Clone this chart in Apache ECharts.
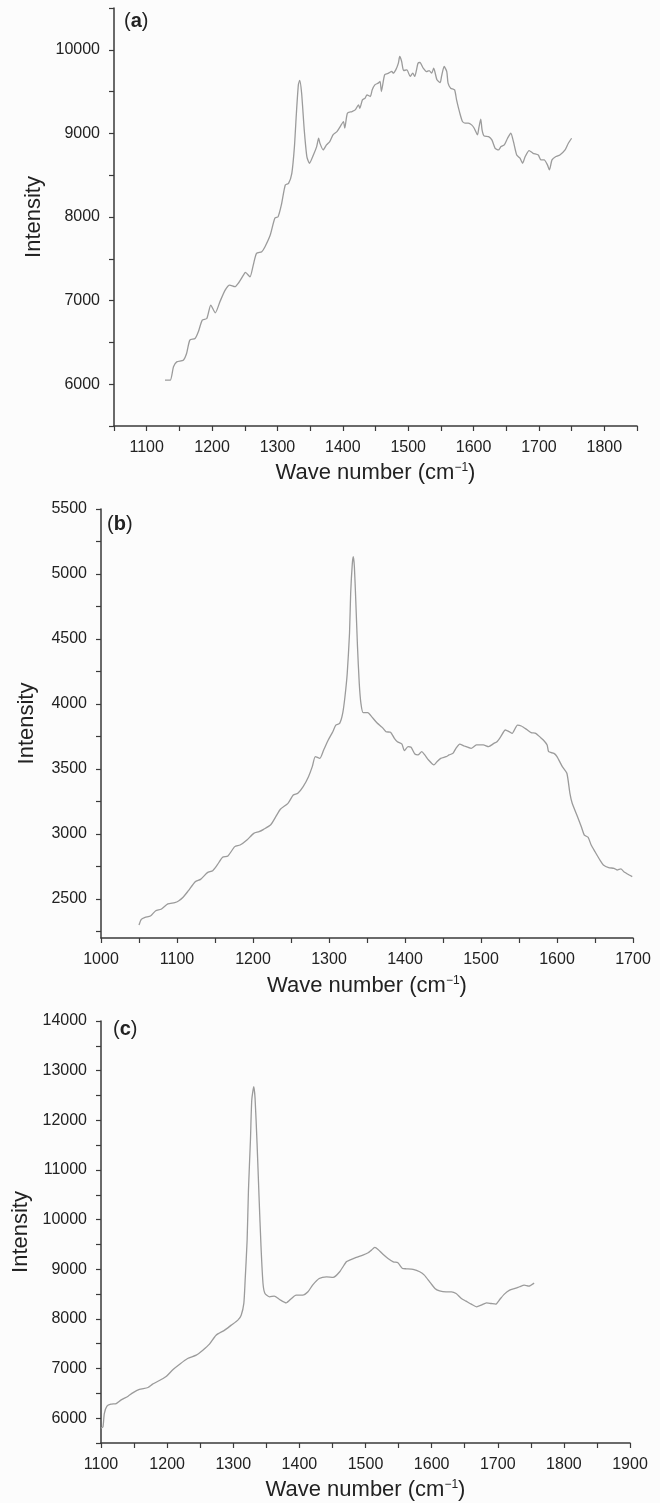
<!DOCTYPE html>
<html>
  <head>
    <meta charset="utf-8" />
    <title>Raman spectra</title>
    <style>
      html, body { margin: 0; padding: 0; background: #fcfcfc; }
      #chart { width: 660px; height: 1503px; }
    </style>
  </head>
  <body>
    <div id="chart"></div>
    <script src="https://cdn.jsdelivr.net/npm/echarts@6/dist/echarts.min.js"></script>
    <script type="text/javascript">
      // spectrum (a)
      var waveA = [1128, 1136, 1141, 1146, 1156, 1161, 1166, 1174, 1179, 1185, 1192, 1198, 1205, 1212, 1220, 1227, 1235, 1240, 1248, 1251, 1258, 1263, 1268, 1276, 1281, 1289, 1296, 1301, 1306, 1312, 1317, 1322, 1326, 1329, 1332, 1334, 1337, 1341, 1345, 1349, 1355, 1360, 1363, 1365, 1370, 1375, 1380, 1385, 1391, 1396, 1401, 1403, 1407, 1414, 1419, 1424, 1426, 1430, 1434, 1437, 1442, 1445, 1449, 1454, 1457, 1459, 1464, 1470, 1475, 1477, 1481, 1485, 1487, 1490, 1493, 1498, 1503, 1507, 1510, 1515, 1518, 1523, 1528, 1532, 1536, 1539, 1544, 1549, 1551, 1555, 1559, 1561, 1565, 1571, 1574, 1579, 1583, 1587, 1592, 1597, 1601, 1606, 1608, 1611, 1613, 1616, 1623, 1628, 1633, 1638, 1642, 1647, 1652, 1657, 1661, 1666, 1671, 1675, 1679, 1685, 1691, 1699, 1703, 1708, 1713, 1716, 1720, 1726, 1732, 1740, 1745, 1750];
      var intensityA = [6048, 6048, 6208, 6267, 6287, 6367, 6527, 6547, 6627, 6766, 6786, 6946, 6854, 6986, 7126, 7186, 7166, 7206, 7305, 7337, 7285, 7425, 7565, 7585, 7645, 7784, 7984, 8004, 8144, 8383, 8403, 8523, 8842, 9242, 9581, 9633, 9481, 9042, 8723, 8643, 8742, 8842, 8942, 8882, 8802, 8862, 8902, 8982, 9022, 9082, 9142, 9062, 9242, 9261, 9281, 9341, 9301, 9401, 9421, 9461, 9441, 9521, 9581, 9601, 9621, 9501, 9701, 9721, 9741, 9721, 9760, 9840, 9920, 9860, 9752, 9760, 9681, 9721, 9681, 9840, 9848, 9780, 9740, 9752, 9721, 9780, 9641, 9609, 9681, 9800, 9740, 9601, 9541, 9521, 9401, 9242, 9142, 9122, 9122, 9102, 9062, 8982, 9062, 9170, 9042, 8970, 8962, 8922, 8822, 8802, 8842, 8862, 8942, 9002, 8902, 8742, 8703, 8643, 8723, 8794, 8762, 8742, 8683, 8683, 8623, 8563, 8683, 8723, 8742, 8802, 8882, 8942];

      // spectrum (b)
      var waveB = [1050, 1053, 1058, 1065, 1072, 1079, 1088, 1097, 1102, 1108, 1115, 1124, 1131, 1140, 1147, 1153, 1160, 1167, 1176, 1183, 1192, 1201, 1208, 1214, 1223, 1230, 1236, 1246, 1253, 1259, 1266, 1273, 1278, 1282, 1288, 1293, 1299, 1305, 1309, 1314, 1318, 1321, 1324, 1327, 1328.5, 1330.7, 1332, 1333.4, 1335.2, 1337.5, 1339.8, 1342, 1345, 1351, 1356, 1363, 1370, 1375, 1381, 1386, 1390, 1396, 1399, 1404, 1408, 1413, 1417, 1422, 1426, 1431, 1438, 1442, 1447, 1454, 1458, 1463, 1467, 1472, 1478, 1487, 1494, 1503, 1510, 1517, 1521, 1526, 1532, 1537, 1541, 1548, 1553, 1560, 1566, 1572, 1578, 1582, 1587, 1589, 1596, 1600, 1607, 1613, 1617, 1620, 1627, 1632, 1636, 1641, 1645, 1650, 1657, 1661, 1668, 1675, 1679, 1684, 1688, 1695, 1699];
      var intensityB = [2300, 2344, 2359, 2369, 2410, 2421, 2462, 2472, 2485, 2513, 2564, 2633, 2651, 2703, 2718, 2762, 2821, 2831, 2903, 2915, 2954, 3005, 3018, 3036, 3069, 3133, 3190, 3236, 3300, 3313, 3364, 3441, 3518, 3595, 3582, 3646, 3723, 3787, 3838, 3851, 3928, 4056, 4236, 4544, 4851, 5082, 5133, 5056, 4800, 4441, 4159, 4005, 3933, 3933, 3903, 3856, 3820, 3787, 3782, 3736, 3710, 3692, 3641, 3672, 3667, 3615, 3608, 3633, 3608, 3569, 3531, 3556, 3582, 3595, 3608, 3620, 3659, 3692, 3677, 3659, 3685, 3685, 3672, 3697, 3710, 3749, 3800, 3787, 3774, 3838, 3831, 3805, 3780, 3774, 3744, 3723, 3685, 3633, 3620, 3595, 3518, 3467, 3313, 3236, 3133, 3056, 2992, 2974, 2915, 2864, 2795, 2762, 2741, 2736, 2723, 2731, 2710, 2685, 2672];

      // spectrum (c)
      var waveC = [1100, 1103, 1105, 1109, 1115, 1123, 1130, 1141, 1148, 1158, 1171, 1178, 1191, 1199, 1209, 1219, 1231, 1244, 1254, 1264, 1274, 1287, 1297, 1307, 1312, 1316, 1318, 1321, 1323, 1326, 1328, 1331, 1333, 1336, 1339, 1342, 1345, 1348, 1355, 1362, 1370, 1380, 1388, 1395, 1405, 1413, 1420, 1430, 1441, 1451, 1461, 1471, 1476, 1486, 1496, 1504, 1509, 1514, 1519, 1526, 1534, 1542, 1549, 1556, 1562, 1572, 1582, 1589, 1597, 1605, 1612, 1622, 1630, 1637, 1645, 1652, 1660, 1668, 1675, 1683, 1690, 1697, 1703, 1710, 1718, 1726, 1733, 1740, 1747, 1755];
      var intensityC = [5800, 5825, 6094, 6242, 6282, 6295, 6363, 6443, 6510, 6578, 6618, 6685, 6779, 6846, 6981, 7088, 7202, 7270, 7370, 7491, 7672, 7773, 7874, 7975, 8075, 8311, 8781, 9587, 10594, 11602, 12408, 12677, 12442, 11535, 10460, 9452, 8714, 8512, 8445, 8458, 8391, 8324, 8411, 8479, 8479, 8546, 8680, 8814, 8848, 8835, 8949, 9150, 9184, 9238, 9285, 9332, 9385, 9439, 9399, 9305, 9217, 9150, 9130, 9016, 9009, 8996, 8949, 8882, 8747, 8613, 8566, 8546, 8546, 8512, 8411, 8358, 8297, 8243, 8277, 8324, 8310, 8297, 8391, 8499, 8579, 8613, 8647, 8680, 8660, 8720];

      // tick positions and labels
      var xTicksA = [1050, 1100, 1150, 1200, 1250, 1300, 1350, 1400, 1450, 1500, 1550, 1600, 1650, 1700, 1750, 1800, 1850];
      var xLabelsA = [1100, 1200, 1300, 1400, 1500, 1600, 1700, 1800];
      var yTicksA = [5500, 6000, 6500, 7000, 7500, 8000, 8500, 9000, 9500, 10000, 10500];
      var yLabelsA = [6000, 7000, 8000, 9000, 10000];

      var xTicksB = [1000, 1050, 1100, 1150, 1200, 1250, 1300, 1350, 1400, 1450, 1500, 1550, 1600, 1650, 1700];
      var xLabelsB = [1000, 1100, 1200, 1300, 1400, 1500, 1600, 1700];
      var yTicksB = [2250, 2500, 2750, 3000, 3250, 3500, 3750, 4000, 4250, 4500, 4750, 5000, 5250, 5500];
      var yLabelsB = [2500, 3000, 3500, 4000, 4500, 5000, 5500];

      var xTicksC = [1100, 1150, 1200, 1250, 1300, 1350, 1400, 1450, 1500, 1550, 1600, 1650, 1700, 1750, 1800, 1850, 1900];
      var xLabelsC = [1100, 1200, 1300, 1400, 1500, 1600, 1700, 1800, 1900];
      var yTicksC = [5500, 6000, 6500, 7000, 7500, 8000, 8500, 9000, 9500, 10000, 10500, 11000, 11500, 12000, 12500, 13000, 13500, 14000];
      var yLabelsC = [6000, 7000, 8000, 9000, 10000, 11000, 12000, 13000, 14000];

      var FONT = "'Liberation Sans', Arial, sans-serif";
      var AXIS_COLOR = "#3a3a3a";
      var LINE_COLOR = "#9b9b9b";

      function pairs(xs, ys) {
        var out = [];
        for (var i = 0; i < xs.length; i++) out.push([xs[i], ys[i]]);
        return out;
      }

      // plain numbers, no thousands separator
      function plain(v) {
        return String(v);
      }

      function xAxisOf(idx, min, max, ticks, labels, gap) {
        return {
          type: "value",
          gridIndex: idx,
          min: min,
          max: max,
          name: "Wave number (cm{sup|\u22121})",
          nameLocation: "middle",
          nameGap: gap,
          nameTextStyle: {
            fontFamily: FONT,
            fontSize: 22,
            color: "#222",
            rich: {
              sup: { fontFamily: FONT, fontSize: 12, color: "#222", verticalAlign: "top", padding: [0, 0, 10, 0] }
            }
          },
          axisLine: { show: true, onZero: false, lineStyle: { color: AXIS_COLOR, width: 1.5 } },
          axisTick: { show: true, length: 5, customValues: ticks, lineStyle: { color: AXIS_COLOR, width: 1.2 } },
          axisLabel: { customValues: labels, formatter: plain, margin: 14, fontFamily: FONT, fontSize: 16, color: "#222" },
          splitLine: { show: false }
        };
      }

      function yAxisOf(idx, min, max, ticks, labels, gap) {
        return {
          type: "value",
          gridIndex: idx,
          min: min,
          max: max,
          name: "Intensity",
          nameLocation: "middle",
          nameGap: gap,
          nameTextStyle: { fontFamily: FONT, fontSize: 22, color: "#222" },
          axisLine: { show: true, onZero: false, lineStyle: { color: AXIS_COLOR, width: 1.5 } },
          axisTick: { show: true, length: 5, customValues: ticks, lineStyle: { color: AXIS_COLOR, width: 1.2 } },
          axisLabel: { customValues: labels, formatter: plain, margin: 14, fontFamily: FONT, fontSize: 16, color: "#222" },
          splitLine: { show: false }
        };
      }

      function lineSeries(idx, xs, ys) {
        return {
          type: "line",
          xAxisIndex: idx,
          yAxisIndex: idx,
          data: pairs(xs, ys),
          showSymbol: false,
          smooth: 0.2,
          lineStyle: { color: LINE_COLOR, width: 1.3 },
          itemStyle: { color: LINE_COLOR }
        };
      }

      function panelTitle(letter, left, top) {
        return {
          text: "({b|" + letter + "})",
          left: left,
          top: top,
          padding: 0,
          textStyle: {
            fontFamily: FONT,
            fontSize: 20,
            fontWeight: "normal",
            color: "#222",
            rich: { b: { fontFamily: FONT, fontSize: 20, fontWeight: "bold", color: "#222" } }
          }
        };
      }

      var chart = echarts.init(document.getElementById("chart"), null, { renderer: "canvas" });
      chart.setOption({
        animation: false,
        backgroundColor: "#fcfcfc",
        title: [panelTitle("a", 124, 11), panelTitle("b", 107, 514), panelTitle("c", 113, 1019)],
        grid: [
          { left: 114, top: 8, width: 523, height: 418 },
          { left: 101, top: 509, width: 532, height: 429 },
          { left: 101, top: 1021, width: 529, height: 422 }
        ],
        xAxis: [
          xAxisOf(0, 1050, 1850, xTicksA, xLabelsA, 36),
          xAxisOf(1, 1000, 1700, xTicksB, xLabelsB, 37),
          xAxisOf(2, 1100, 1900, xTicksC, xLabelsC, 36)
        ],
        yAxis: [
          yAxisOf(0, 5500, 10500, yTicksA, yLabelsA, 56),
          yAxisOf(1, 2200, 5500, yTicksB, yLabelsB, 63),
          yAxisOf(2, 5500, 14000, yTicksC, yLabelsC, 64)
        ],
        series: [
          lineSeries(0, waveA, intensityA),
          lineSeries(1, waveB, intensityB),
          lineSeries(2, waveC, intensityC)
        ]
      });
    </script>
  </body>
</html>
